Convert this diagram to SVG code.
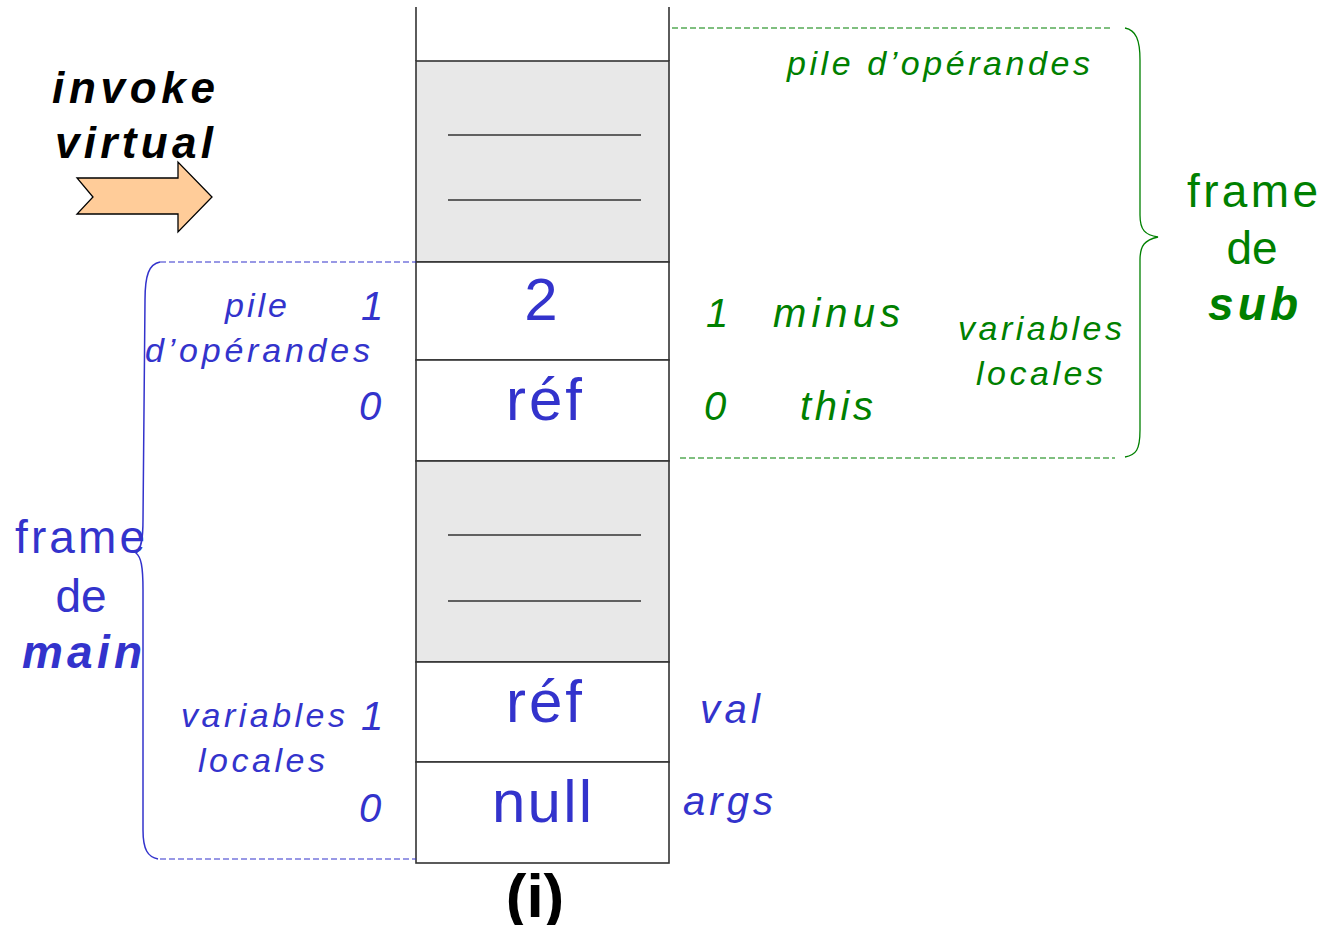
<svg xmlns="http://www.w3.org/2000/svg" width="1325" height="925" viewBox="0 0 1325 925">
<style>
.col{stroke:#333;stroke-width:1.6;fill:none}
.cellw{fill:#fff;stroke:#333;stroke-width:1.6}
.cellg{fill:#e8e8e8;stroke:#333;stroke-width:1.6}
.sep{stroke:#333;stroke-width:1.3}
.t{font-family:"Liberation Sans",Arial,sans-serif}
.it{font-style:italic}
.bd{font-weight:bold}
.blue{fill:#3333cc}
.green{fill:#008000}
.big{font-size:60px}
.lab{font-size:34px}
.num{font-size:40px}
.fr{font-size:46px}
.dashb{stroke:#3333cc;stroke-width:1.2;stroke-dasharray:6 3;fill:none}
.dashg{stroke:#008000;stroke-width:1.2;stroke-dasharray:6 3;fill:none}
</style>

<g id="stack">
  <line class="col" x1="416" y1="7" x2="416" y2="61"/>
  <line class="col" x1="669" y1="7" x2="669" y2="61"/>
  <rect class="cellg" x="416" y="61" width="253" height="201"/>
  <line class="sep" x1="448" y1="135" x2="641" y2="135"/>
  <line class="sep" x1="448" y1="200" x2="641" y2="200"/>
  <rect class="cellw" x="416" y="262" width="253" height="98"/>
  <rect class="cellw" x="416" y="360" width="253" height="101"/>
  <rect class="cellg" x="416" y="461" width="253" height="201"/>
  <line class="sep" x1="448" y1="535" x2="641" y2="535"/>
  <line class="sep" x1="448" y1="601" x2="641" y2="601"/>
  <rect class="cellw" x="416" y="662" width="253" height="100"/>
  <rect class="cellw" x="416" y="762" width="253" height="101"/>
  <text class="t blue big" x="541" y="320" text-anchor="middle">2</text>
  <text class="t blue big" x="506" y="420" textLength="76" lengthAdjust="spacing">réf</text>
  <text class="t blue big" x="506" y="722" textLength="76" lengthAdjust="spacing">réf</text>
  <text class="t blue big" x="492" y="822" textLength="100" lengthAdjust="spacing">null</text>
  <text class="t bd" x="535" y="917" font-size="62" text-anchor="middle" fill="#000">(i)</text>
</g>

<g id="invoke">
  <text class="t it bd" x="52" y="103" font-size="44" textLength="163" lengthAdjust="spacing" fill="#000">invoke</text>
  <text class="t it bd" x="55" y="158" font-size="44" textLength="158" lengthAdjust="spacing" fill="#000">virtual</text>
  <polygon points="77,178 178,178 178,162 212,197 178,232 178,214 77,214 93,197" fill="#ffcc99" stroke="#000" stroke-width="1.3"/>
</g>

<g id="frame-main">
  <path class="dashb" d="M160,262 L416,262"/>
  <path class="dashb" d="M160,859 L416,859"/>
  <path d="M160,262 C149,264 145,275 145,300 L143,520 C143,540 141,549 136,553 C141,557 143,566 143,590 L143,830 C143,850 148,857 158,859" fill="none" stroke="#3333cc" stroke-width="1.5"/>
  <text class="t it blue lab" x="225" y="317" textLength="62" lengthAdjust="spacing">pile</text>
  <text class="t it blue num" x="361" y="320">1</text>
  <text class="t it blue lab" x="145" y="362" textLength="225" lengthAdjust="spacing">d’opérandes</text>
  <text class="t it blue num" x="359" y="420">0</text>
  <text class="t it blue lab" x="181" y="727" textLength="164" lengthAdjust="spacing">variables</text>
  <text class="t it blue num" x="361" y="730">1</text>
  <text class="t it blue lab" x="198" y="772" textLength="127" lengthAdjust="spacing">locales</text>
  <text class="t it blue num" x="359" y="822">0</text>
  <text class="t blue fr" x="15" y="553" textLength="130" lengthAdjust="spacing">frame</text>
  <text class="t blue fr" x="81" y="612" text-anchor="middle">de</text>
  <text class="t it bd blue fr" x="22" y="668" textLength="120" lengthAdjust="spacing">main</text>
  <text class="t it blue num" x="700" y="723" textLength="60" lengthAdjust="spacing">val</text>
  <text class="t it blue num" x="683" y="815" textLength="90" lengthAdjust="spacing">args</text>
</g>

<g id="frame-sub">
  <path class="dashg" d="M672,28 L1110,28"/>
  <path class="dashg" d="M680,458 L1115,458"/>
  <path d="M1125,28 C1136,30 1140,40 1140,60 L1140,215 C1140,230 1145,235 1158,237 C1145,240 1140,245 1140,260 L1140,430 C1140,450 1136,455 1125,457" fill="none" stroke="#008000" stroke-width="1.3"/>
  <text class="t it green lab" x="787" y="75" textLength="303" lengthAdjust="spacing">pile d’opérandes</text>
  <text class="t it green num" x="706" y="327">1</text>
  <text class="t it green num" x="773" y="327" textLength="127" lengthAdjust="spacing">minus</text>
  <text class="t it green lab" x="958" y="340" textLength="164" lengthAdjust="spacing">variables</text>
  <text class="t it green lab" x="976" y="385" textLength="127" lengthAdjust="spacing">locales</text>
  <text class="t it green num" x="704" y="420">0</text>
  <text class="t it green num" x="800" y="420" textLength="73" lengthAdjust="spacing">this</text>
  <text class="t green fr" x="1187" y="207" textLength="131" lengthAdjust="spacing">frame</text>
  <text class="t green fr" x="1252" y="264" text-anchor="middle">de</text>
  <text class="t it bd green fr" x="1208" y="320" textLength="90" lengthAdjust="spacing">sub</text>
</g>
</svg>
